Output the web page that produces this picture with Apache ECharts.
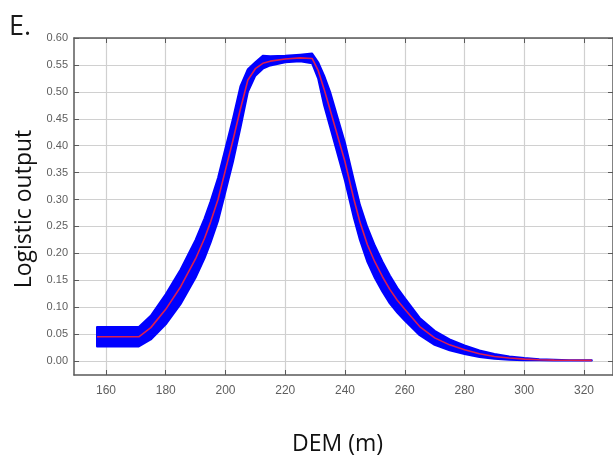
<!DOCTYPE html>
<html>
<head>
<meta charset="utf-8">
<script src="https://cdn.jsdelivr.net/npm/echarts@6/dist/echarts.min.js"></script>
<style>
html,body{margin:0;padding:0;background:#fff;}
#chart{width:613px;height:456px;}
</style>
</head>
<body>
<div id="chart"></div>
<script>
// DEM (m) sample positions
var dem = [157, 160, 165, 171, 175, 180, 185, 190, 193, 195, 197.5, 200, 202.5, 205, 207.5, 210, 212.5, 215, 220, 225, 229, 231, 233, 235, 240, 243, 245, 247.5, 250, 252.5, 255, 257.5, 260, 265, 270, 275, 280, 285, 290, 295, 300, 305, 310, 315, 322.6];
// mean logistic output (red)
var meanOut = [0.045, 0.045, 0.045, 0.045, 0.062, 0.096, 0.138, 0.19, 0.228, 0.258, 0.30, 0.355, 0.41, 0.468, 0.522, 0.543, 0.553, 0.557, 0.561, 0.563, 0.562, 0.54, 0.505, 0.467, 0.37, 0.30, 0.258, 0.216, 0.184, 0.157, 0.133, 0.113, 0.096, 0.064, 0.043, 0.030, 0.021, 0.0135, 0.0085, 0.0055, 0.0035, 0.0022, 0.0016, 0.0013, 0.0012];
// mean + sd (upper edge of blue band)
var upperOut = [0.063, 0.063, 0.063, 0.063, 0.084, 0.124, 0.170, 0.225, 0.265, 0.296, 0.34, 0.395, 0.45, 0.51, 0.542, 0.555, 0.567, 0.566, 0.567, 0.569, 0.571, 0.555, 0.53, 0.50, 0.405, 0.335, 0.29, 0.248, 0.214, 0.185, 0.159, 0.136, 0.117, 0.080, 0.056, 0.040, 0.029, 0.0195, 0.013, 0.0085, 0.0055, 0.0032, 0.0021, 0.0016, 0.0014];
// mean - sd (lower edge of blue band)
var lowerOut = [0.027, 0.027, 0.027, 0.027, 0.040, 0.068, 0.106, 0.155, 0.191, 0.220, 0.26, 0.315, 0.37, 0.433, 0.50, 0.53, 0.543, 0.549, 0.555, 0.557, 0.553, 0.525, 0.475, 0.435, 0.335, 0.265, 0.225, 0.184, 0.154, 0.129, 0.107, 0.090, 0.075, 0.048, 0.030, 0.020, 0.013, 0.0075, 0.004, 0.0025, 0.0015, 0.0012, 0.0011, 0.0010, 0.0010];
// axis ticks
var xTicks = [160, 180, 200, 220, 240, 260, 280, 300, 320];
var yTicks = [0, 0.05, 0.1, 0.15, 0.2, 0.25, 0.3, 0.35, 0.4, 0.45, 0.5, 0.55, 0.6];

var bandData = dem.map(function (x, i) { return [x, lowerOut[i], upperOut[i]]; });
var meanData = dem.map(function (x, i) { return [x, meanOut[i]]; });

function renderBand(params, api) {
  if (params.dataIndex !== 0) return null;
  var pts = [];
  for (var i = 0; i < dem.length; i++) pts.push(api.coord([dem[i], upperOut[i]]));
  for (var j = dem.length - 1; j >= 0; j--) pts.push(api.coord([dem[j], lowerOut[j]]));
  return {
    type: 'polygon',
    shape: {points: pts},
    style: {fill: '#0000ff', stroke: '#0000ff', lineWidth: 2, lineJoin: 'round'}
  };
}

var chart = echarts.init(document.getElementById('chart'), null, {renderer: 'canvas'});
var axisColor = '#5a5a5a';
var font = 'Liberation Sans, Arial, sans-serif';

chart.setOption({
  animation: false,
  backgroundColor: '#ffffff',
  grid: {left: 74, top: 38, right: 0, bottom: 81, containLabel: false, outerBoundsMode: 'none'},
  graphic: [{
    type: 'text', left: 9, top: 14,
    style: {text: 'E.', fontSize: 27, fill: '#1a1a1a', fontFamily: 'Open Sans, sans-serif'}
  }],
  xAxis: [{
    type: 'value', min: 149.3, max: 329.7, interval: 20,
    name: 'DEM (m)', nameLocation: 'middle', nameGap: 58,
    nameTextStyle: {fontSize: 23, color: '#111', fontFamily: 'Open Sans, sans-serif', padding: [0, 12, 0, 0]},
    axisLine: {show: true, onZero: false, lineStyle: {color: axisColor, width: 1.5}},
    axisTick: {show: true, inside: true, length: 5, lineStyle: {color: axisColor}, customValues: xTicks},
    axisLabel: {margin: 10, customValues: xTicks, color: '#5e5e5e', fontSize: 12, fontFamily: font},
    splitLine: {show: true, lineStyle: {color: '#d0d0d0', width: 1.2}}
  }, {
    type: 'value', position: 'top', min: 149.3, max: 329.7, interval: 20,
    axisLine: {show: true, onZero: false, lineStyle: {color: axisColor, width: 1.5}},
    axisTick: {show: true, inside: true, length: 5, lineStyle: {color: axisColor}, customValues: xTicks},
    axisLabel: {show: false},
    splitLine: {show: false}
  }],
  yAxis: [{
    type: 'value', min: -0.026, max: 0.6, interval: 0.05,
    name: 'Logistic output', nameLocation: 'middle', nameGap: 34,
    nameTextStyle: {fontSize: 23, color: '#111', fontFamily: 'Open Sans, sans-serif', padding: [0, 5, 0, 0]},
    axisLine: {show: true, onZero: false, lineStyle: {color: axisColor, width: 1.5}},
    axisTick: {show: true, inside: true, length: 5, lineStyle: {color: axisColor}, customValues: yTicks},
    axisLabel: {margin: 6, customValues: yTicks, color: '#5e5e5e', fontSize: 11, fontFamily: font,
      formatter: function (v) { return v.toFixed(2); }},
    splitLine: {show: true, lineStyle: {color: '#d0d0d0', width: 1.2}}
  }, {
    type: 'value', position: 'right', min: -0.026, max: 0.6, interval: 0.05,
    axisLine: {show: true, onZero: false, lineStyle: {color: axisColor, width: 1.5}},
    axisTick: {show: true, inside: true, length: 5, lineStyle: {color: axisColor}, customValues: yTicks},
    axisLabel: {show: false},
    splitLine: {show: false}
  }],
  series: [{
    name: 'band', type: 'custom', data: bandData,
    renderItem: renderBand, encode: {x: 0, y: [1, 2]}, clip: true, z: 2
  }, {
    name: 'mean', type: 'line', data: meanData,
    symbol: 'none', smooth: false,
    lineStyle: {color: '#dc1e50', width: 1.6}, z: 3
  }]
});
</script>
</body>
</html>
